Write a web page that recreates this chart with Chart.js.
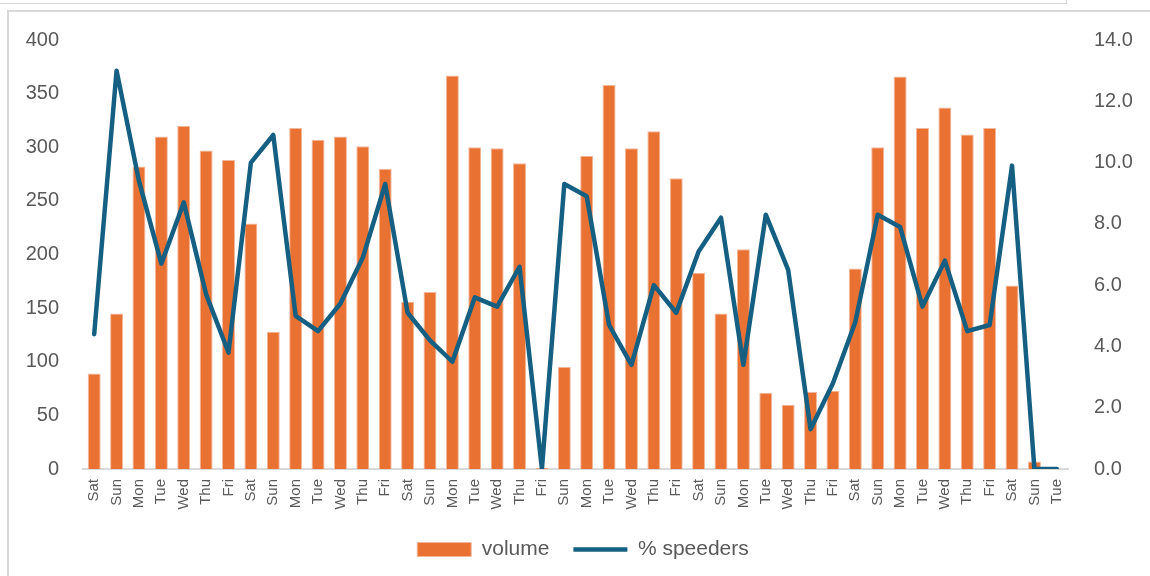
<!DOCTYPE html>
<html>
<head>
<meta charset="utf-8">
<script src="https://cdn.jsdelivr.net/npm/chart.js@4.4.1/dist/chart.umd.min.js"></script>
<style>
  html, body { margin: 0; padding: 0; background: #fff; }
  body { width: 1150px; height: 576px; position: relative; overflow: hidden; }
  #topbox { position: absolute; left: -2px; top: -20px; width: 1067px; height: 22px; border: 1px solid #d4d4d4; }
  #frame { position: absolute; left: 7px; top: 10px; width: 1200px; height: 620px; border: 2px solid #d9d9d9; }
  #wrap { position: absolute; left: 0; top: 0; width: 1150px; height: 576px; }
</style>
</head>
<body>
<div id="topbox"></div>
<div id="frame"></div>
<div id="wrap"><canvas id="chart"></canvas></div>
<script>
const days = ["Sat","Sun","Mon","Tue","Wed","Thu","Fri",
              "Sat","Sun","Mon","Tue","Wed","Thu","Fri",
              "Sat","Sun","Mon","Tue","Wed","Thu","Fri",
              "Sun","Mon","Tue","Wed","Thu","Fri",
              "Sat","Sun","Mon","Tue","Wed","Thu","Fri",
              "Sat","Sun","Mon","Tue","Wed","Thu","Fri",
              "Sat","Sun","Tue"]

const volume = [89,145,282,310,320,297,288,
                229,128,318,307,310,301,280,
                156,165,367,300,299,285,1,
                95,292,358,299,315,271,
                183,145,205,71,60,72,73,
                187,300,366,318,337,312,318,
                171,7,0]

const speeders = [4.4,13.0,9.4,6.7,8.7,5.7,3.8,
                  10.0,10.9,5.0,4.5,5.4,6.9,9.3,
                  5.1,4.2,3.5,5.6,5.3,6.6,0,
                  9.3,8.9,4.7,3.4,6.0,5.1,
                  7.1,8.2,3.4,8.3,6.5,1.3,2.8,
                  4.8,8.3,7.9,5.3,6.8,4.5,4.7,
                  9.9,0,0]

const textColor = "#595959"
const font = "'Liberation Sans', Arial, sans-serif"
const narrow = "'Liberation Sans Narrow', 'Liberation Sans', Arial, sans-serif"

const chart = new Chart("chart", {
    type: "bar",
    data: {
        labels: days,
        datasets: [{
            label: "volume",
            data: volume,
            backgroundColor: "#E97132",
            borderColor: "#F3B89B",
            borderWidth: 1,
            categoryPercentage: 1,
            barPercentage: 0.58,
            pointStyle: "rect",
            yAxisID: "y",
            order: 1
        }, {
            type: "line",
            label: "% speeders",
            data: speeders,
            borderColor: "#156082",
            backgroundColor: "#156082",
            borderWidth: 4.5,
            borderCapStyle: "round",
            borderJoinStyle: "round",
            pointRadius: 0,
            pointStyle: "line",
            tension: 0,
            yAxisID: "y1",
            order: 0
        }]
    },
    options: {
        responsive: true,
        maintainAspectRatio: false,
        animation: false,
        layout: { padding: { top: 40, left: 16, right: 0, bottom: 6 } },
        plugins: {
            tooltip: { enabled: false },
            legend: {
                position: "bottom",
                labels: {
                    color: textColor,
                    font: { family: font, size: 21 },
                    usePointStyle: true,
                    pointStyleWidth: 54,
                    boxHeight: 14,
                    padding: 24,
                    generateLabels: function (c) {
                        const items = Chart.defaults.plugins.legend.labels.generateLabels(c)
                        items.sort((a, b) => a.datasetIndex - b.datasetIndex)
                        return items
                    }
                }
            }
        },
        scales: {
            x: {
                grid: { display: false },
                border: { display: true, color: "#d9d9d9", width: 2 },
                ticks: {
                    color: textColor,
                    font: { family: narrow, size: 15 },
                    minRotation: 90,
                    maxRotation: 90,
                    autoSkip: false,
                    padding: 2
                },
                afterFit: function (s) { s.height = 46 }
            },
            y: {
                position: "left",
                min: 0,
                max: 400,
                grid: { display: false },
                border: { display: false },
                ticks: {
                    stepSize: 50,
                    color: textColor,
                    font: { family: font, size: 20 },
                    padding: 16
                },
                afterFit: function (s) { s.width = 67 }
            },
            y1: {
                position: "right",
                min: 0,
                max: 14,
                grid: { display: false },
                border: { display: false },
                ticks: {
                    stepSize: 2,
                    color: textColor,
                    font: { family: font, size: 20 },
                    padding: 18,
                    callback: v => v.toFixed(1)
                },
                afterFit: function (s) { s.width = 82 }
            }
        }
    }
})
</script>
</body>
</html>
